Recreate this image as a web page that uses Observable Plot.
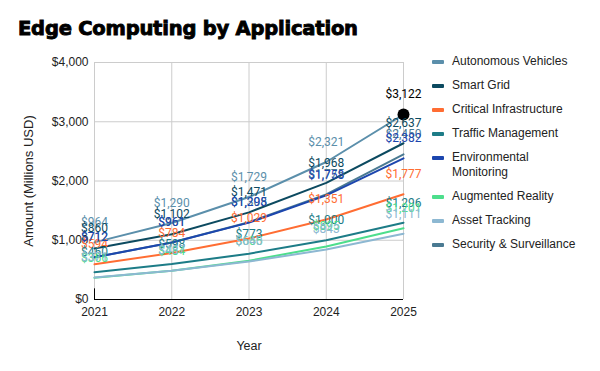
<!DOCTYPE html>
<html>
<head>
<meta charset="utf-8">
<script src="https://cdn.jsdelivr.net/npm/d3@7"></script>
<script src="https://cdn.jsdelivr.net/npm/@observablehq/plot@0.6"></script>
<style>
  html, body { margin: 0; padding: 0; background: #fff; }
  #wrap { position: relative; width: 600px; height: 371px; overflow: hidden; }
  #title { position: absolute; left: 18px; top: 17px; font-family: "DejaVu Sans", sans-serif; font-weight: bold; font-size: 19.5px; color: #000; letter-spacing: -0.2px; white-space: nowrap; -webkit-text-stroke: 0.9px #000; }
  #chart { position: absolute; left: 0; top: 50px; }
  #legend { position: absolute; left: 432px; top: 54px; font-family: "Liberation Sans", Arial, sans-serif; font-size: 12px; color: #222; }
  .item { display: flex; align-items: flex-start; margin-bottom: 9px; line-height: 15px; }
  .sw { width: 12px; height: 4px; border-radius: 1px; margin-top: 5.5px; margin-right: 8px; flex: none; }
  .lbl { width: 132px; }
</style>
</head>
<body>
<div id="wrap">
  <div id="title"></div>
  <div id="chart"></div>
  <div id="legend"></div>
</div>
<script>
const chartTitle = "Edge Computing by Application";
const xLabel = "Year";
const yLabel = "Amount (Millions USD)";
const years = [2021, 2022, 2023, 2024, 2025];
const yTicks = [0, 1000, 2000, 3000, 4000];
const seriesNames = ["Autonomous Vehicles", "Smart Grid", "Critical Infrastructure", "Traffic Management", "Environmental Monitoring", "Augmented Reality", "Asset Tracking", "Security & Surveillance"];
const seriesColors = ["#5b8fab", "#0c4a60", "#ff6d33", "#1d7c87", "#1c46ae", "#4dde8c", "#8db8d2", "#4a7a92"];
const autonomousVehicles = [964, 1290, 1729, 2321, 3122];
const smartGrid = [860, 1102, 1471, 1968, 2637];
const criticalInfrastructure = [594, 784, 1029, 1351, 1777];
const trafficManagement = [460, 598, 773, 1000, 1296];
const environmentalMonitoring = [712, 961, 1298, 1758, 2382];
const augmentedReality = [366, 484, 655, 895, 1201];
const assetTracking = [371, 487, 640, 843, 1111];
const securitySurveillance = [712, 961, 1305, 1775, 2450];
const highlightSeries = "Autonomous Vehicles";
const highlightYear = 2025;

const seriesValues = [autonomousVehicles, smartGrid, criticalInfrastructure, trafficManagement, environmentalMonitoring, augmentedReality, assetTracking, securitySurveillance];

const rows = [];
seriesNames.forEach((s, i) => years.forEach((yr, j) => rows.push({series: s, year: yr, value: seriesValues[i][j], order: i})));
const drawOrder = [7, 0, 1, 2, 3, 4, 5, 6];
const orderedRows = drawOrder.flatMap(i => rows.filter(r => r.order === i));
const colorOf = s => seriesColors[seriesNames.indexOf(s)];
const fmt = v => "$" + d3.format(",")(v);
const isHi = d => d.series === highlightSeries && d.year === highlightYear;

document.getElementById("title").textContent = chartTitle;

const plot = Plot.plot({
  width: 600,
  height: 321,
  marginTop: 12,
  marginBottom: 72,
  marginLeft: 94,
  marginRight: 197,
  style: {fontFamily: "'Liberation Sans', Arial, sans-serif", fontSize: "12px", color: "#222"},
  x: {domain: [2021, 2025]},
  y: {domain: [0, 4000]},
  marks: [
    Plot.gridY(yTicks, {stroke: "#cccccc", strokeOpacity: 1}),
    Plot.gridX(years, {stroke: "#cccccc", strokeOpacity: 1}),
    Plot.axisY(yTicks, {tickSize: 0, tickPadding: 6, tickFormat: fmt, label: null, fontSize: 12, fill: "#222"}),
    Plot.axisX(years, {tickSize: 0, tickPadding: 8, tickFormat: d => String(d), label: null, fontSize: 12, fill: "#222"}),
    Plot.text([yLabel], {frameAnchor: "left", dx: -66, rotate: -90, fontSize: 13, fill: "#222", textAnchor: "middle"}),
    Plot.text([xLabel], {frameAnchor: "bottom", dy: 50, fontSize: 12.5, fill: "#222"}),
    Plot.ruleY([0], {stroke: "#000", strokeWidth: 1}),
    Plot.ruleX([years[0]], {y1: 0, y2: 180, stroke: "#000", strokeWidth: 1}),
    Plot.lineY(orderedRows, {x: "year", y: "value", z: "series", stroke: d => colorOf(d.series), strokeWidth: 2}),
    Plot.dot(rows.filter(isHi), {x: "year", y: "value", r: 6, fill: "#000"}),
    Plot.text(orderedRows, {x: "year", y: "value", text: d => fmt(d.value), fill: d => isHi(d) ? "#000" : colorOf(d.series), dy: -20, fontSize: 12, fontFamily: "Roboto, sans-serif"})
  ]
});
document.getElementById("chart").appendChild(plot);

const legend = document.getElementById("legend");
seriesNames.forEach((s, i) => {
  const item = document.createElement("div");
  item.className = "item";
  const sw = document.createElement("div");
  sw.className = "sw";
  sw.style.background = seriesColors[i];
  const lb = document.createElement("div");
  lb.className = "lbl";
  lb.textContent = s;
  item.appendChild(sw);
  item.appendChild(lb);
  legend.appendChild(item);
});
</script>
</body>
</html>
